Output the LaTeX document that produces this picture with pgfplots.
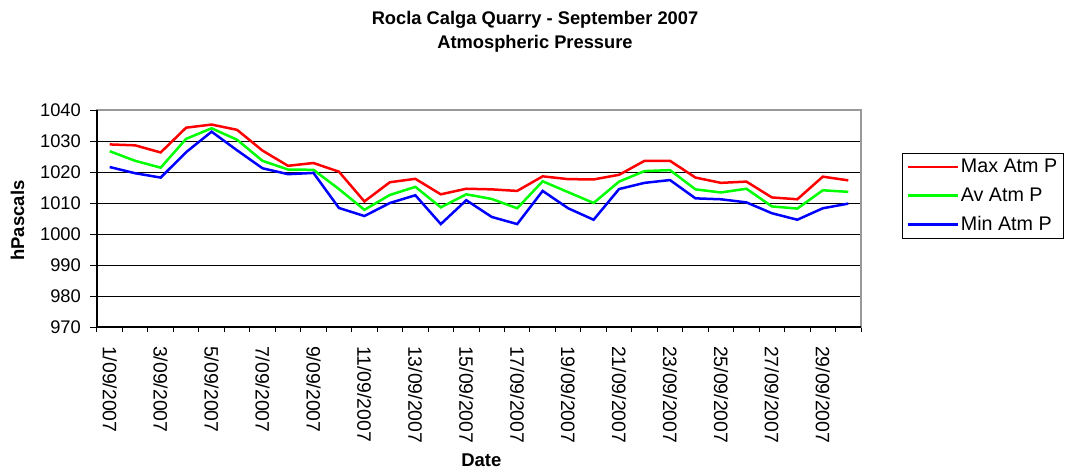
\documentclass[border=0pt]{standalone}
\usepackage{pgfplots}
\pgfplotsset{compat=1.18}
\usepackage{fontspec}
\setmainfont{Liberation Sans}
\newcommand{\fx}{\fontsize{19.4bp}{23bp}\selectfont}
\newcommand{\fy}{\fontsize{18.3bp}{22bp}\selectfont}
\newcommand{\fl}{\fontsize{19.7bp}{23bp}\selectfont}
\begin{document}
\begin{tikzpicture}
\useasboundingbox (-97bp,-143bp) rectangle (975bp,327bp);
\begin{axis}[
  at={(0,0)}, anchor=south west,
  scale only axis, width=764bp, height=217bp,
  xmin=0.5, xmax=30.5, ymin=970, ymax=1040,
  ytick={970,980,...,1040},
  xtick={1,3,...,29},
  xticklabels={1/09/2007,3/09/2007,5/09/2007,7/09/2007,9/09/2007,11/09/2007,13/09/2007,15/09/2007,17/09/2007,19/09/2007,21/09/2007,23/09/2007,25/09/2007,27/09/2007,29/09/2007},
  minor xtick={0.5,1.5,...,30.5},
  tick pos=left,
  major x tick style={draw=none},
  minor x tick style={black, line width=1bp},
  minor tick length=5bp,
  y tick style={black, line width=1bp},
  major tick length=7bp,
  tick align=outside,
  ymajorgrids,
  major grid style={black, line width=0.8bp},
  axis line style={gray!80, line width=1.5bp},
  /pgf/number format/assume math mode=true,
  /pgf/number format/1000 sep={},
  yticklabel style={font=\fy, inner xsep=9bp},
  xticklabel style={font=\fx, rotate=-90, anchor=west, inner xsep=12bp},
  xlabel={\textbf{Date}},
  ylabel={\textbf{hPascals}},
  xlabel style={font=\fontsize{18.5bp}{22bp}\selectfont, at={(axis description cs:0.503,0)}, anchor=center, yshift=-133bp},
  ylabel style={font=\fontsize{18.5bp}{22bp}\selectfont, at={(axis description cs:-0.104,0.49)}, anchor=center},
  legend style={font=\fl, at={(1,1)}, anchor=north west, xshift=41bp, yshift=-43bp,
    draw=black, line width=0.8bp, inner xsep=4bp, inner ysep=4bp, row sep=9.5bp},
  legend cell align=left,
  legend image code/.code={\draw[#1] (0bp,0bp) -- (50bp,0bp);},
  every axis plot/.append style={line width=2.5bp, mark=none, sharp plot},
  clip=false,
]
\addplot[color={rgb,255:red,255;green,0;blue,0}] coordinates {
(1,1028.9) (2,1028.6) (3,1026.3) (4,1034.3) (5,1035.3) (6,1033.6) (7,1026.9) (8,1022.0) (9,1022.9) (10,1020.1)
(11,1010.5) (12,1016.7) (13,1017.8) (14,1012.8) (15,1014.6) (16,1014.4) (17,1013.9) (18,1018.6) (19,1017.7) (20,1017.6)
(21,1019.1) (22,1023.6) (23,1023.6) (24,1018.2) (25,1016.5) (26,1016.9) (27,1011.8) (28,1011.2) (29,1018.5) (30,1017.3)};
\addlegendentry{Max Atm P}
\addplot[color={rgb,255:red,0;green,255;blue,0}] coordinates {
(1,1026.7) (2,1023.6) (3,1021.4) (4,1030.7) (5,1034.1) (6,1030.4) (7,1023.6) (8,1020.8) (9,1020.7) (10,1014.5)
(11,1007.8) (12,1012.6) (13,1015.2) (14,1008.6) (15,1012.8) (16,1011.3) (17,1008.3) (18,1017.0) (19,1013.5) (20,1010.0)
(21,1016.9) (22,1020.3) (23,1020.6) (24,1014.4) (25,1013.4) (26,1014.6) (27,1008.9) (28,1008.2) (29,1014.1) (30,1013.6)};
\addlegendentry{Av Atm P}
\addplot[color={rgb,255:red,0;green,0;blue,255}] coordinates {
(1,1021.6) (2,1019.6) (3,1018.2) (4,1026.4) (5,1033.0) (6,1027.0) (7,1021.2) (8,1019.3) (9,1019.7) (10,1008.4)
(11,1005.8) (12,1010.0) (13,1012.5) (14,1003.2) (15,1010.9) (16,1005.5) (17,1003.2) (18,1013.9) (19,1008.3) (20,1004.6)
(21,1014.5) (22,1016.5) (23,1017.4) (24,1011.5) (25,1011.2) (26,1010.2) (27,1006.7) (28,1004.6) (29,1008.3) (30,1009.8)};
\addlegendentry{Min Atm P}
\draw[black, line width=1.5bp] (rel axis cs:0,1) -- (rel axis cs:0,0) -- (rel axis cs:1,0);
\end{axis}
\node[font=\fontsize{18.3bp}{24bp}\selectfont\bfseries, align=center] at (438bp,295bp) {Rocla Calga Quarry - September 2007\\Atmospheric Pressure};
\end{tikzpicture}
\end{document}
